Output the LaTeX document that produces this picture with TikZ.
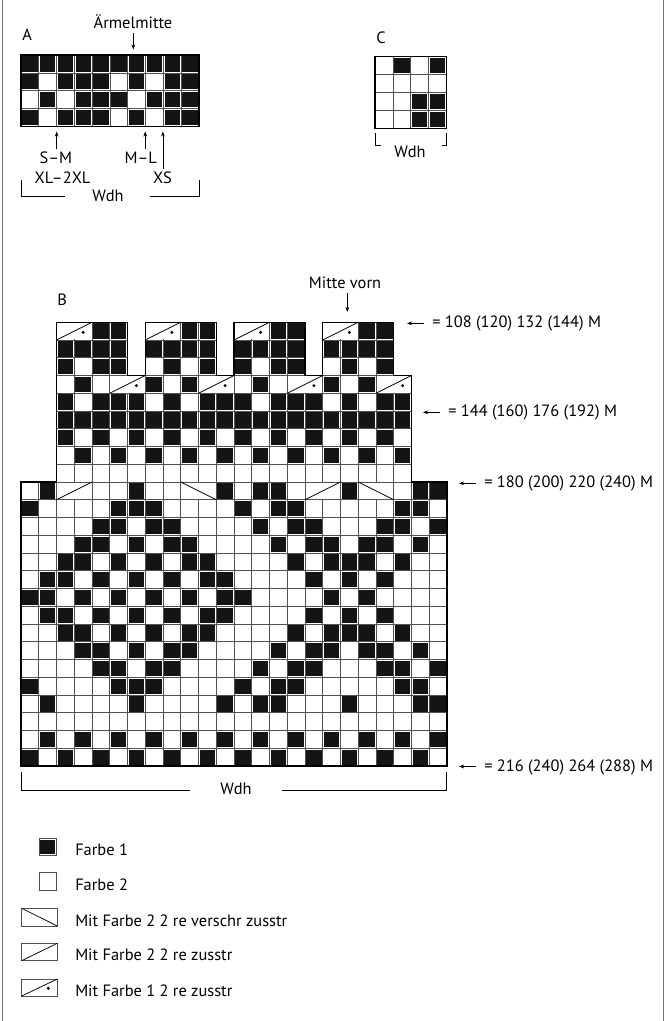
\documentclass[tikz,border=0pt]{standalone}
\usepackage{fontspec}
\setmainfont{PT Sans}
\usetikzlibrary{arrows.meta}
\begin{document}
\begin{tikzpicture}[x=0.75pt,y=-0.75pt,
  gridline/.style={draw=black!68, line width=0.5pt},
  blk/.style={fill=black!92},
  border/.style={draw=black, line width=1.05pt, line join=miter},
  lbl/.style={font=\fontsize{12.3}{14}\selectfont, inner sep=0pt},
  arr/.style={-{Stealth[length=3.8pt,width=2.8pt]}, line width=0.55pt},
  decline/.style={line width=0.55pt},
  frameline/.style={draw=black!55, line width=0.7pt},
  brack/.style={line width=0.6pt}
]
\useasboundingbox (0,0) rectangle (665,1021);
\draw[frameline] (2,0) -- (2,1021);
\draw[frameline] (663,0) -- (663,1021);

% ---------------- Chart A ----------------
\node[lbl, anchor=base west] (labA) at (22,40) {A};
\node[lbl, anchor=base] (armel) at (133,28) {Ärmelmitte};
\coordinate (armT) at (133.3,33);
\coordinate (armH) at (133.3,49.5);
\draw[arr] (armT) -- (armH);
\begin{scope}[xshift=15.75pt,yshift=-94.725pt,x=13.35pt,y=13.35pt]
  \foreach \r in {0,...,3} \foreach \c in {0,...,9} \draw[gridline] (\c,\r) rectangle ++(1,1);
  \foreach \r/\cl in {0/{0,2,3,4,6,8,9},1/{1,3,4,5,7,8,9},2/{0,2,3,4,6,8,9},3/{0,...,9}}
    {\foreach \c in \cl {\fill[blk] (\c+0.07,\r+0.07) rectangle (\c+0.93,\r+0.93);}}
  \draw[border] (0,0) rectangle (10,4);
\end{scope}
\coordinate (smT) at (56.7,149); \coordinate (smH) at (56.7,131.5);
\coordinate (mlT) at (145.2,149); \coordinate (mlH) at (145.2,131.5);
\coordinate (xsT) at (162.9,168.5); \coordinate (xsH) at (162.9,131.5);
\draw[arr] (smT) -- (smH);
\draw[arr] (mlT) -- (mlH);
\draw[arr] (xsT) -- (xsH);
\node[lbl, anchor=base] (labSM) at (55.8,163.3) {S–M};
\node[lbl, anchor=base] (labML) at (140.8,163.3) {M–L};
\node[lbl, anchor=base] (labXL) at (62.5,183.2) {XL–2XL};
\node[lbl, anchor=base] (labXS) at (162.5,183.2) {XS};
\node[lbl, anchor=base] (wdhA) at (108,201) {Wdh};
\draw[brack] (21.7,180) -- (21.7,196) -- (65,196);
\draw[brack] (150,196) -- (199,196) -- (199,180);

% ---------------- Chart C ----------------
\node[lbl, anchor=base west] (labC) at (376,43) {C};
\begin{scope}[xshift=281.25pt,yshift=-96.225pt,x=13.425pt,y=13.425pt]
  \foreach \r in {0,...,3} \foreach \c in {0,...,3} \draw[gridline] (\c,\r) rectangle ++(1,1);
  \foreach \r/\cl in {0/{2,3},1/{2,3},3/{1,3}}
    {\foreach \c in \cl {\fill[blk] (\c+0.07,\r+0.07) rectangle (\c+0.93,\r+0.93);}}
  \draw[border] (0,0) rectangle (4,4);
\end{scope}
\draw[brack] (380.5,145.7) -- (375.7,145.7) -- (375.7,133.3);
\draw[brack] (442,145.7) -- (446.7,145.7) -- (446.7,133.3);
\node[lbl, anchor=base] (wdhC) at (410,157) {Wdh};

% ---------------- Chart B ----------------
\node[lbl, anchor=base west] (labB) at (57,305) {B};
\node[lbl, anchor=base] (mitte) at (345,288) {Mitte vorn};
\coordinate (mvT) at (347.3,293);
\coordinate (mvH) at (347.3,312);
\draw[arr] (mvT) -- (mvH);
\begin{scope}[xshift=15.75pt,yshift=-574.5pt,x=13.3125pt,y=13.3125pt]
  % grid
  \foreach \r in {0,...,15} \foreach \c in {0,...,23} \draw[gridline] (\c,\r) rectangle ++(1,1);
  \foreach \r in {16,...,21} \foreach \c in {2,...,21} \draw[gridline] (\c,\r) rectangle ++(1,1);
  \foreach \r in {22,23,24} \foreach \c in {2,3,4,5,7,8,9,10,12,13,14,15,17,18,19,20} \draw[gridline] (\c,\r) rectangle ++(1,1);
  % black cells
  \foreach \r/\cl in {
     0/{0,2,...,22},
     1/{1,3,...,23},
     3/{1,6,11,13,14,18,22,23},
     4/{0,5,6,7,12,14,15,21,22},
     5/{4,5,7,8,13,15,16,20,21,23},
     6/{3,4,6,8,9,14,16,17,19,20,22},
     7/{2,3,5,7,9,10,15,17,18,19,21},
     8/{1,2,4,6,8,10,11,16,18,20},
     9/{0,1,3,5,7,9,11,12,17,19},
    10/{1,2,4,6,8,10,11,16,18,20},
    11/{2,3,5,7,9,10,15,17,18,19,21},
    12/{3,4,6,8,9,14,16,17,19,20,22},
    13/{4,5,7,8,13,15,16,20,21,23},
    14/{0,5,6,7,12,14,15,21,22},
    15/{1,6,11,13,14,18,22,23},
    17/{3,5,...,21},
    18/{2,4,...,20},
    19/{2,...,21},
    20/{2,4,5,6,8,10,11,12,14,15,16,18,20,21},
    21/{3,7,9,13,17,19},
    22/{2,4,5,8,10,12,14,15,18,20},
    23/{2,3,4,5,7,8,9,10,12,13,14,15,17,18,19,20},
    24/{4,5,9,10,14,15,19,20}}
    {\foreach \c in \cl {\fill[blk] (\c+0.07,\r+0.07) rectangle (\c+0.93,\r+0.93);}}
  % decreases in row 16 (index 15)
  \foreach \c in {2,9,16,19} \fill[white] (\c+0.03,15.03) rectangle (\c+1.97,15.97);
  \draw[decline] (2,15) -- (4,16);
  \draw[decline] (9,16) -- (11,15);
  \draw[decline] (16,15) -- (18,16);
  \draw[decline] (19,16) -- (21,15);
  % decreases with dot in row 22 (index 21) and row 25 (index 24)
  \foreach \r/\c in {21/5,21/10,21/15,21/20,24/2,24/7,24/12,24/17} {
    \fill[white] (\c+0.03,\r+0.03) rectangle (\c+1.97,\r+0.97);
    \draw[decline] (\c,\r) -- (\c+2,\r+1);
    \fill (\c+1.5,\r+0.43) circle (1.3pt);
  }
  % outline
  \draw[border] (0,0) -- (24,0) -- (24,16) -- (22,16) -- (22,22) -- (21,22) -- (21,25)
    -- (17,25) -- (17,22) -- (16,22) -- (16,25) -- (12,25) -- (12,22) -- (11,22) -- (11,25)
    -- (7,25) -- (7,22) -- (6,22) -- (6,25) -- (2,25) -- (2,16) -- (0,16) -- cycle;
\end{scope}

% right-hand labels
\coordinate (a1T) at (424,323.3); \coordinate (a1H) at (407,323.3);
\coordinate (a2T) at (440,412.3); \coordinate (a2H) at (423,412.3);
\coordinate (a3T) at (476,483.3); \coordinate (a3H) at (459,483.3);
\coordinate (a4T) at (476,766.5); \coordinate (a4H) at (459,766.5);
\draw[arr] (a1T) -- (a1H);
\draw[arr] (a2T) -- (a2H);
\draw[arr] (a3T) -- (a3H);
\draw[arr] (a4T) -- (a4H);
\node[lbl, anchor=base west] (m108) at (432,327.8) {= 108 (120) 132 (144) M};
\node[lbl, anchor=base west] (m144) at (448,416.8) {= 144 (160) 176 (192) M};
\node[lbl, anchor=base west] (m180) at (484,487.8) {= 180 (200) 220 (240) M};
\node[lbl, anchor=base west] (m216) at (484,771) {= 216 (240) 264 (288) M};

% bottom bracket for B
\draw[brack] (21,772) -- (21,790) -- (190,790);
\draw[brack] (282,790) -- (446.7,790) -- (446.7,772);
\node[lbl, anchor=base] (wdhB) at (236,794.5) {Wdh};

% ---------------- Legend ----------------
\draw[gridline] (39,838.3) rectangle (56.7,855);
\fill[blk] (40.3,839.6) rectangle (55.4,853.7);
\node[lbl, anchor=base west] (lg1) at (75,855) {Farbe 1};
\draw[gridline] (39,872.7) rectangle (56.7,890);
\node[lbl, anchor=base west] (lg2) at (75,890) {Farbe 2};
\draw[gridline] (21.7,908.3) rectangle (57.3,926);
\draw[decline] (21.7,908.3) -- (57.3,926);
\node[lbl, anchor=base west] (lg3) at (75,926) {Mit Farbe 2 2 re verschr zusstr};
\draw[gridline] (21.7,943.3) rectangle (57.3,960.7);
\draw[decline] (21.7,960.7) -- (57.3,943.3);
\node[lbl, anchor=base west] (lg4) at (75,960.7) {Mit Farbe 2 2 re zusstr};
\draw[gridline] (21.7,979) rectangle (57.3,996);
\draw[decline] (21.7,996) -- (57.3,979);
\fill (48.3,988.3) circle (1.3pt);
\node[lbl, anchor=base west] (lg5) at (75,996.5) {Mit Farbe 1 2 re zusstr};
\end{tikzpicture}
\end{document}
